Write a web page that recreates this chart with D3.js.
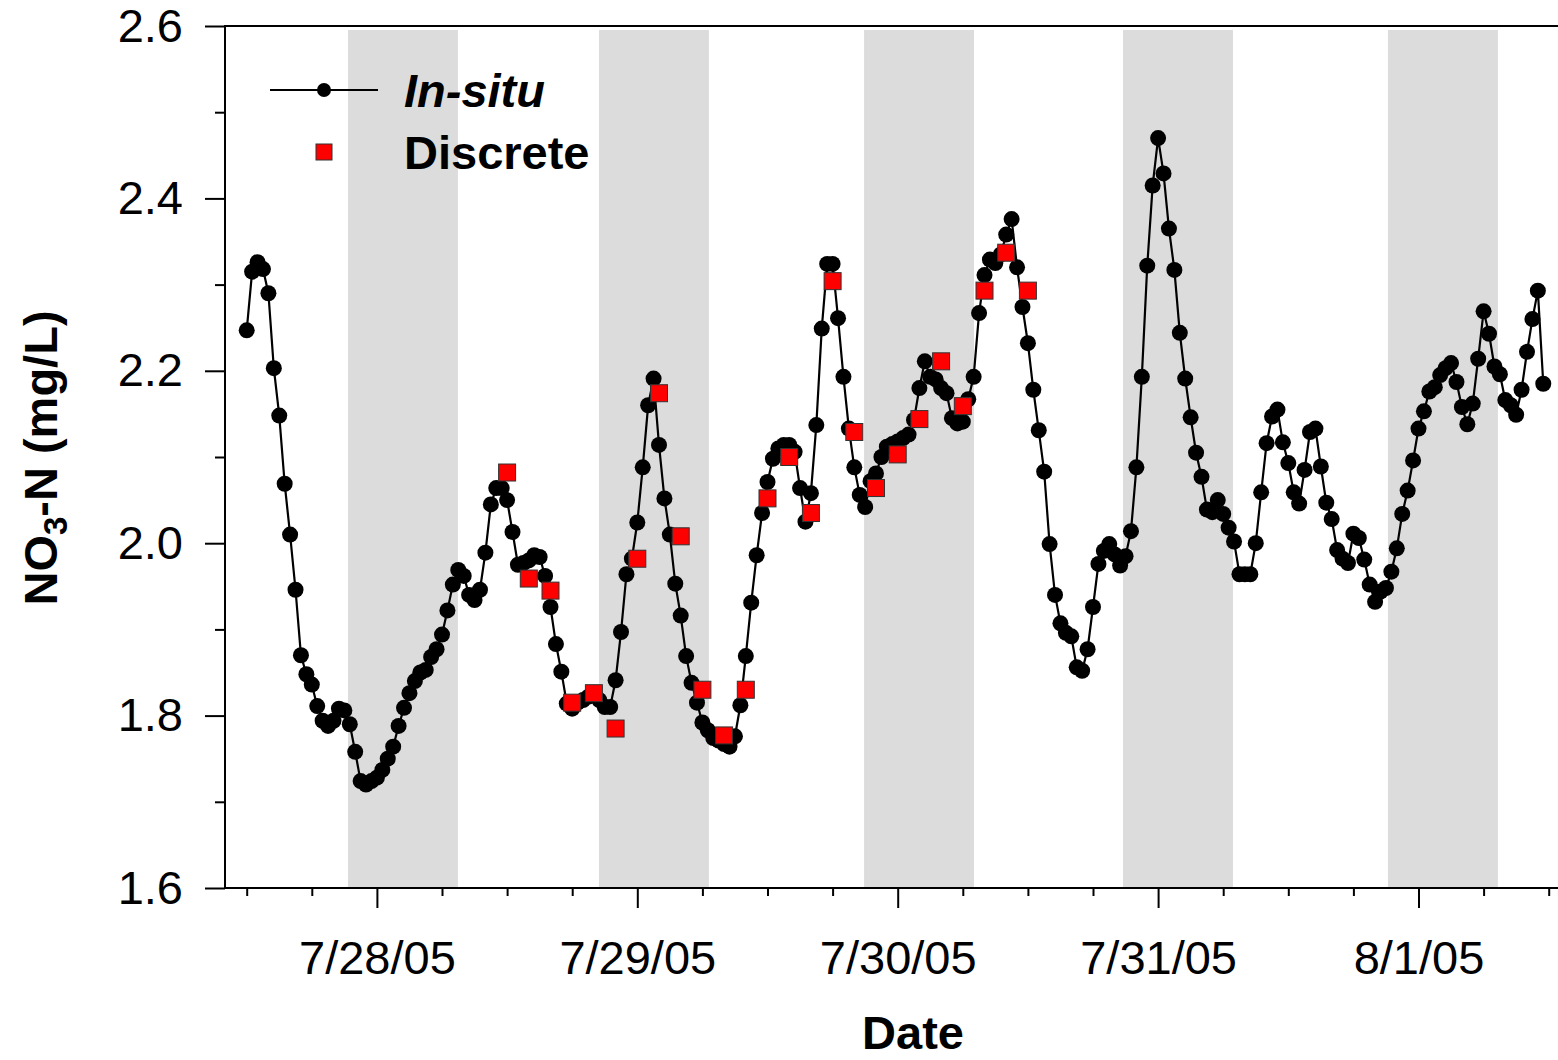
<!DOCTYPE html>
<html>
<head>
<meta charset="utf-8">
<script src="https://d3js.org/d3.v7.min.js"></script>
<style>
  body { margin: 0; background: #fff; }
  svg text { font-family: "Liberation Sans", Arial, sans-serif; fill: #000; }
</style>
</head>
<body>
<div id="chart"></div>
<script>
// in-situ sonde record, one reading every 30 min
var insituStart = "2005-07-27 12:00";
var insituStepMin = 30;
var insituNO3 = [
  2.247, 2.315, 2.326, 2.318, 2.290, 2.203, 2.148, 2.069, 2.010, 1.946,
  1.870, 1.848, 1.836, 1.811, 1.794, 1.788, 1.794, 1.808, 1.806,
  1.790, 1.758, 1.724, 1.720, 1.724,
  1.728, 1.737, 1.750, 1.764, 1.788, 1.809, 1.826, 1.840, 1.850, 1.853,
  1.868, 1.877, 1.894, 1.922, 1.952, 1.969, 1.962, 1.940, 1.934, 1.946,
  1.989, 2.045, 2.064, 2.064, 2.050, 2.013, 1.975, 1.977, 1.980, 1.986,
  1.984, 1.962, 1.926, 1.883, 1.851, 1.814, 1.808, 1.815, 1.818, 1.822,
  1.824, 1.818, 1.810, 1.810, 1.841, 1.897, 1.964, 1.982, 2.024, 2.088,
  2.160, 2.191,
  2.114, 2.052, 2.010, 1.953, 1.916, 1.869, 1.838, 1.815, 1.792, 1.783,
  1.774, 1.771, 1.767, 1.764, 1.776, 1.812, 1.869, 1.931, 1.986, 2.035,
  2.071, 2.098, 2.110, 2.114, 2.114, 2.106, 2.064, 2.025, 2.058, 2.137,
  2.249, 2.324,
  2.324, 2.261, 2.193, 2.133, 2.088, 2.056, 2.042,
  2.072, 2.081, 2.100, 2.112, 2.115, 2.118, 2.122, 2.126, 2.143,
  2.180, 2.211, 2.193, 2.190, 2.180, 2.174, 2.145, 2.139, 2.141, 2.167,
  2.193, 2.267, 2.311, 2.329, 2.325, 2.335, 2.358, 2.376, 2.320, 2.274,
  2.232, 2.178, 2.131, 2.083, 1.999, 1.940, 1.907, 1.896, 1.892, 1.856,
  1.852, 1.877, 1.926, 1.976, 1.991, 1.999, 1.987, 1.974, 1.985, 2.014,
  2.088, 2.193, 2.322, 2.415, 2.470,
  2.429, 2.365, 2.317, 2.244, 2.191, 2.146, 2.105, 2.077, 2.039, 2.036,
  2.050, 2.034, 2.018, 2.002, 1.964, 1.964, 1.964,
  2.000, 2.059, 2.116, 2.147, 2.155, 2.117, 2.093, 2.059, 2.046, 2.085,
  2.129, 2.133, 2.089, 2.047, 2.028, 1.992, 1.982, 1.977, 2.011, 2.006,
  1.981, 1.952, 1.932, 1.944, 1.948, 1.967, 1.994, 2.034,
  2.061, 2.096, 2.133, 2.153, 2.176, 2.181, 2.195, 2.203, 2.209, 2.187,
  2.158, 2.138, 2.162, 2.214, 2.269, 2.243, 2.205, 2.196, 2.166, 2.160,
  2.149, 2.178, 2.222, 2.260, 2.293, 2.185
];

// discrete grab samples, every 2 h
var discreteStart = "2005-07-28 12:00";
var discreteStepMin = 120;
var discreteNO3 = [
  2.082, 1.959, 1.945, 1.815, 1.826, 1.785, 1.982, 2.174, 2.008, 1.830,
  1.777, 1.830, 2.052, 2.100, 2.035, 2.304, 2.129, 2.064, 2.103, 2.144,
  2.211, 2.159, 2.293, 2.337, 2.293
];

// night periods (grey bands)
var nightStart = ["2005-07-27 21:20", "2005-07-28 20:28", "2005-07-29 20:54",
                  "2005-07-30 20:46", "2005-07-31 21:11"];
var nightEnd   = ["2005-07-28 07:28", "2005-07-29 06:36", "2005-07-30 07:02",
                  "2005-07-31 06:54", "2005-08-01 07:19"];

var xStart = "2005-07-27 10:00", xEnd = "2005-08-01 13:00";
var dayTicks  = ["2005-07-28 00:00", "2005-07-29 00:00", "2005-07-30 00:00",
                 "2005-07-31 00:00", "2005-08-01 00:00"];
var dayLabels = ["7/28/05", "7/29/05", "7/30/05", "7/31/05", "8/1/05"];
var yTicks      = [1.6, 1.8, 2.0, 2.2, 2.4, 2.6];
var yMinorTicks = [1.7, 1.9, 2.1, 2.3, 2.5];

function drawChart(){

  var parse = d3.utcParse("%Y-%m-%d %H:%M");

  function series(start, stepMin, values){
    var t0 = parse(start);
    return values.map(function(v, i){
      return {t: d3.utcMinute.offset(t0, i*stepMin), v: v};
    });
  }

  var W = 1558, H = 1060,
      pl = 225, pt = 26, pb = 888,
      pr = pl + 123*10.85,   // plot continues past the picture edge
      fs = 47;

  var x = d3.scaleUtc().domain([parse(xStart), parse(xEnd)]).range([pl, pr]),
      y = d3.scaleLinear().domain([1.6, 2.6]).range([pb, pt]);

  var svg = d3.select("#chart").append("svg")
    .attr("width", W).attr("height", H)
    .style("display", "block");

  // night shading
  svg.append("g").selectAll("rect")
    .data(nightStart.map(function(s, i){ return [parse(s), parse(nightEnd[i])]; }))
    .enter().append("rect")
    .attr("x", function(d){ return x(d[0]); })
    .attr("width", function(d){ return x(d[1]) - x(d[0]); })
    .attr("y", pt + 4)
    .attr("height", pb - pt - 4)
    .attr("fill", "#dcdcdc");

  // frame
  svg.append("path")
    .attr("d", "M" + pr + "," + pt + "H" + pl + "V" + pb + "H" + pr)
    .attr("fill", "none").attr("stroke", "#000").attr("stroke-width", 2);

  // x axis: minor every 6 h, major at midnight
  var minor = d3.utcHour.every(6).range(parse(xStart), parse(xEnd))
    .filter(function(d){ return d.getUTCHours() !== 0; });

  var gxMinor = svg.append("g").attr("transform", "translate(0," + pb + ")")
    .call(d3.axisBottom(x).tickValues(minor).tickSize(8).tickFormat(""));
  var gxMajor = svg.append("g").attr("transform", "translate(0," + pb + ")")
    .call(d3.axisBottom(x).tickValues(dayTicks.map(parse)).tickSize(20).tickPadding(33)
      .tickFormat(function(d, i){ return dayLabels[i]; }));

  // y axis
  var gyMinor = svg.append("g").attr("transform", "translate(" + pl + ",0)")
    .call(d3.axisLeft(y).tickValues(yMinorTicks).tickSize(10).tickFormat(""));
  var gyMajor = svg.append("g").attr("transform", "translate(" + pl + ",0)")
    .call(d3.axisLeft(y).tickValues(yTicks).tickSize(20).tickPadding(22)
      .tickFormat(d3.format(".1f")));

  [gxMinor, gxMajor, gyMinor, gyMajor].forEach(function(g){
    g.select(".domain").remove();
    g.selectAll(".tick line").attr("stroke", "#000").attr("stroke-width", 2);
    g.selectAll(".tick text").attr("font-size", fs).attr("fill", "#000")
      .style("font-family", "'Liberation Sans', Arial, sans-serif");
  });

  // axis titles
  svg.append("text")
    .attr("x", 913).attr("y", 1049)
    .attr("text-anchor", "middle")
    .attr("font-size", fs).attr("font-weight", "bold")
    .text("Date");

  var yt = svg.append("text")
    .attr("transform", "translate(57,458) rotate(-90)")
    .attr("text-anchor", "middle")
    .attr("font-size", fs).attr("font-weight", "bold");
  yt.append("tspan").text("NO");
  yt.append("tspan").attr("font-size", 33).attr("dy", 10).text("3");
  yt.append("tspan").attr("dy", -10).text("-N (mg/L)");

  // in-situ line + dots
  var ins = series(insituStart, insituStepMin, insituNO3),
      dis = series(discreteStart, discreteStepMin, discreteNO3);

  svg.append("path")
    .datum(ins)
    .attr("fill", "none").attr("stroke", "#000").attr("stroke-width", 2.2)
    .attr("d", d3.line().x(function(d){ return x(d.t); }).y(function(d){ return y(d.v); }));

  svg.append("g").selectAll("circle")
    .data(ins).enter().append("circle")
    .attr("cx", function(d){ return x(d.t); })
    .attr("cy", function(d){ return y(d.v); })
    .attr("r", 8)
    .attr("fill", "#000");

  // discrete squares
  var sq = 17;
  svg.append("g").selectAll("rect")
    .data(dis).enter().append("rect")
    .attr("x", function(d){ return x(d.t) - sq/2; })
    .attr("y", function(d){ return y(d.v) - sq/2; })
    .attr("width", sq).attr("height", sq)
    .attr("fill", "#ff0000").attr("stroke", "#333").attr("stroke-width", 1);

  // legend
  var lg = svg.append("g");
  lg.append("line").attr("x1", 270).attr("x2", 378).attr("y1", 90).attr("y2", 90)
    .attr("stroke", "#000").attr("stroke-width", 2);
  lg.append("circle").attr("cx", 324).attr("cy", 90).attr("r", 7).attr("fill", "#000");
  lg.append("text").attr("x", 404).attr("y", 107)
    .attr("font-size", fs).attr("font-weight", "bold").attr("font-style", "italic")
    .text("In-situ");
  lg.append("rect").attr("x", 324 - 8).attr("y", 152 - 8).attr("width", 16).attr("height", 16)
    .attr("fill", "#ff0000").attr("stroke", "#333").attr("stroke-width", 1);
  lg.append("text").attr("x", 404).attr("y", 169)
    .attr("font-size", fs).attr("font-weight", "bold")
    .text("Discrete");
}

drawChart();
</script>
</body>
</html>
